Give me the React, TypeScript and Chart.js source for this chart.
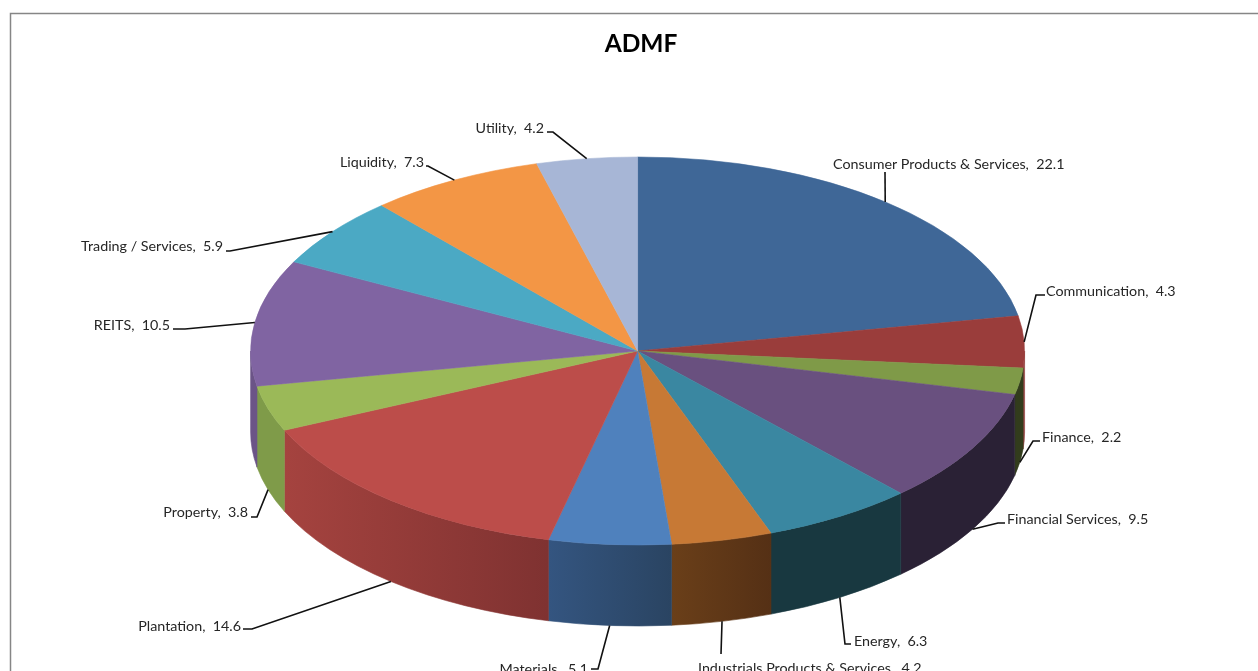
import React, { useEffect, useRef } from "react";
import { Chart, registerables } from "chart.js";

Chart.register(...registerables);

const categories = [
  "Consumer Products & Services", "Communication", "Finance", "Financial Services", "Energy",
  "Industrials Products & Services", "Materials", "Plantation", "Property", "REITS",
  "Trading / Services", "Liquidity", "Utility",
];
const values = [22.1, 4.3, 2.2, 9.5, 6.3, 4.2, 5.1, 14.6, 3.8, 10.5, 5.9, 7.3, 4.2];

const topColors = [
  "#3F6797", "#9A3D3B", "#7F9A48", "#69507F", "#3A87A1", "#C77935", "#4F81BD",
  "#BC4D4A", "#9BB958", "#8064A2", "#4BA9C4", "#F39645", "#A7B6D6",
];
const wallLeft = [
  "#3F6797", "#8F3A38", "#323C1C", "#2A2135", "#183840", "#6A3F19", "#345580",
  "#A5433F", "#7F9B49", "#6B5487", "#4BACC6", "#F79646", "#A7B6D6",
];
const wallRight = [
  "#3F6797", "#8F3A38", "#323C1C", "#2A2135", "#183840", "#553015", "#2A4462",
  "#7F3231", "#7F9B49", "#6B5487", "#4BACC6", "#F79646", "#A7B6D6",
];

// Label layout: text x, text centre y, alignment, leader way-points after the slice anchor
type Lay = { x: number; y: number; a: CanvasTextAlign; pts: number[][]; top?: boolean };
const labelLayout: Lay[] = [
  { x: 833, y: 164, a: "left", pts: [[885, 172]], top: true },
  { x: 1046, y: 291, a: "left", pts: [[1036, 295], [1045, 295]], top: true },
  { x: 1042, y: 437, a: "left", pts: [[1033, 441], [1040, 441]] },
  { x: 1007, y: 519, a: "left", pts: [[998, 523], [1005, 523]] },
  { x: 854, y: 641, a: "left", pts: [[845, 644], [851, 644]] },
  { x: 698, y: 668, a: "left", pts: [[721, 654]] },
  { x: 588, y: 669, a: "right", pts: [[598, 669], [591, 669]] },
  { x: 241, y: 626, a: "right", pts: [[252, 629], [243, 629]] },
  { x: 248, y: 512, a: "right", pts: [[257, 517], [251, 517]] },
  { x: 170, y: 325, a: "right", pts: [[185, 329], [173, 329]], top: true },
  { x: 223, y: 246, a: "right", pts: [[230, 251], [226, 251]], top: true },
  { x: 424, y: 162, a: "right", pts: [[428, 166], [426, 166]], top: true },
  { x: 544, y: 128, a: "right", pts: [[553, 132], [547, 132]], top: true },
];

const CX = 637.6, CY = 351, RX = 387, RY = 194, DEPTH = 81;
const FONT = "14.3px Lato, 'Open Sans', sans-serif";

const pie3d = {
  id: "pie3d",
  beforeDraw(chart: any) {
    const { ctx } = chart;
    ctx.save();
    ctx.strokeStyle = "#868686";
    ctx.lineWidth = 1.5;
    ctx.strokeRect(10.5, 13.5, 2000, 2000);
    ctx.restore();
  },
  beforeDatasetsDraw(chart: any) {
    const { ctx } = chart;
    const arcs = chart.getDatasetMeta(0).data;
    arcs.forEach((arc: any, i: number) => {
      const s = Math.max(arc.startAngle, 0);
      const e = Math.min(arc.endAngle, Math.PI);
      if (e <= s) return;
      const x0 = CX + RX * Math.cos(e);
      const x1 = CX + RX * Math.cos(s);
      const g = ctx.createLinearGradient(x0, 0, x1, 0);
      g.addColorStop(0, wallLeft[i]);
      g.addColorStop(1, wallRight[i]);
      ctx.save();
      ctx.beginPath();
      ctx.ellipse(CX, CY, RX, RY, 0, s, e, false);
      ctx.ellipse(CX, CY + DEPTH, RX, RY, 0, e, s, true);
      ctx.closePath();
      ctx.fillStyle = g;
      ctx.fill();
      ctx.strokeStyle = g;
      ctx.lineWidth = 0.6;
      ctx.stroke();
      ctx.restore();
    });
    const a0 = arcs[0];
    ctx.save();
    ctx.translate(CX, CY);
    ctx.scale(RX / a0.outerRadius, RY / a0.outerRadius);
    ctx.translate(-a0.x, -a0.y);
  },
  afterDatasetsDraw(chart: any) {
    const { ctx } = chart;
    ctx.restore();
    const arcs = chart.getDatasetMeta(0).data;
    ctx.save();
    ctx.font = FONT;
    ctx.textBaseline = "middle";
    arcs.forEach((arc: any, i: number) => {
      const lay = labelLayout[i];
      const m = (arc.startAngle + arc.endAngle) / 2;
      const ax = CX + RX * Math.cos(m);
      const ay = CY + RY * Math.sin(m) + (lay.top ? 0 : DEPTH);
      ctx.beginPath();
      ctx.moveTo(ax, ay);
      lay.pts.forEach((p) => ctx.lineTo(p[0], p[1]));
      ctx.strokeStyle = "#111";
      ctx.lineWidth = 1.6;
      ctx.stroke();
      ctx.fillStyle = "#262626";
      ctx.textAlign = lay.a;
      ctx.fillText(`${categories[i]},  ${values[i]}`, lay.x, lay.y);
    });
    ctx.restore();
  },
};

export default function App() {
  const ref = useRef<HTMLCanvasElement>(null);
  useEffect(() => {
    const chart = new Chart(ref.current!, {
      type: "pie",
      data: {
        labels: categories,
        datasets: [{
          data: values,
          backgroundColor: topColors,
          borderColor: topColors,
          borderWidth: 0.6,
          clip: false,
        } as any],
      },
      options: {
        responsive: false,
        animation: false,
        layout: { padding: { left: 24 } },
        plugins: {
          legend: { display: false },
          tooltip: { enabled: false },
          title: {
            display: true,
            text: "ADMF",
            color: "#000",
            font: { family: "Lato, 'Open Sans', sans-serif", size: 24.5, weight: "bold" },
            padding: { top: 29, bottom: 10 },
          },
        },
      },
      plugins: [pie3d],
    });
    return () => chart.destroy();
  }, []);
  return (
    <div style={{ position: "fixed", left: 0, top: 0, width: 1258, height: 671, overflow: "hidden", background: "#fff" }}>
      <canvas ref={ref} width={1258} height={671} style={{ display: "block" }} />
    </div>
  );
}
